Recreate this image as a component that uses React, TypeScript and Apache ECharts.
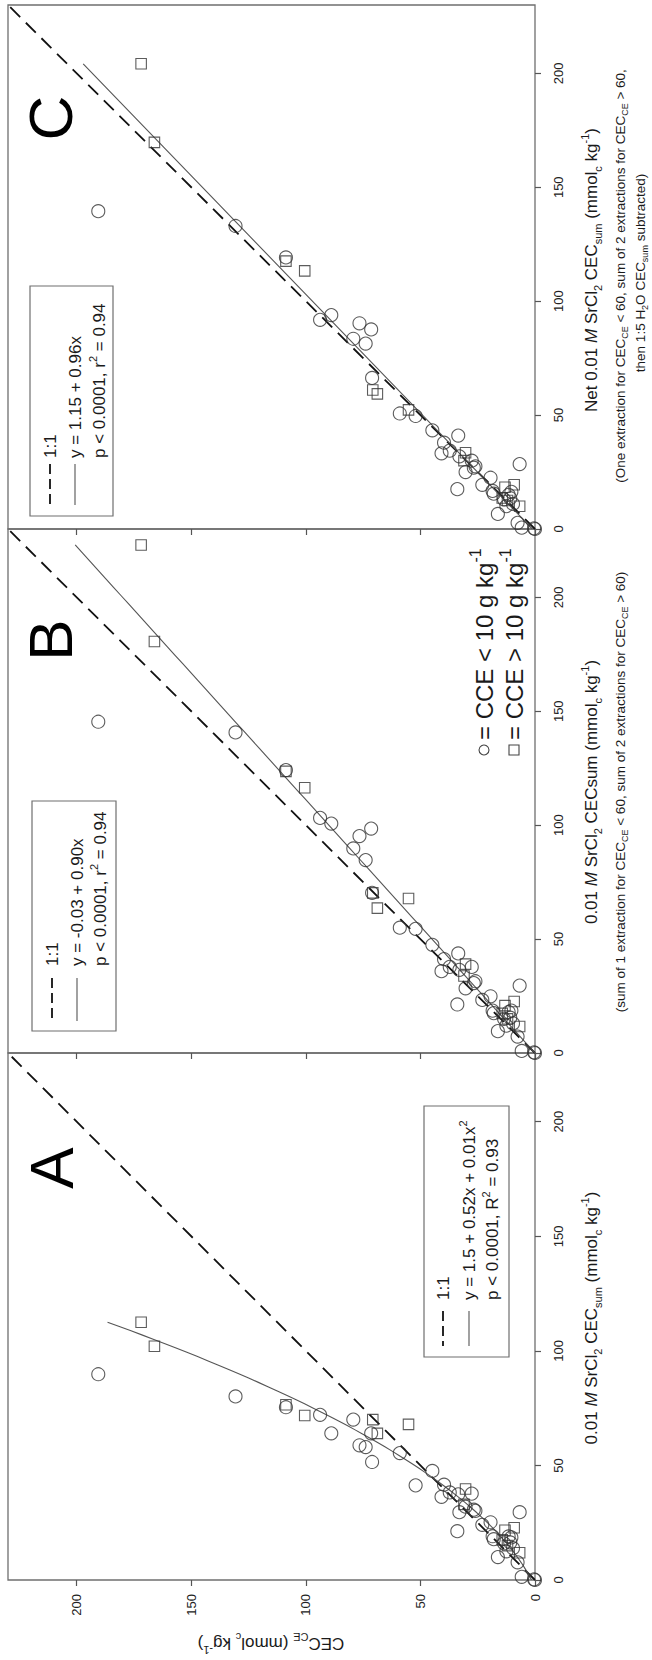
import React, { useEffect, useRef } from "react";
import * as echarts from "echarts";

const FONT = "'Liberation Sans', Arial, Helvetica, sans-serif";
const INK = "#1a1a1a";

// Tick values shared by every axis (mmol_c kg-1)
const TICKS = [0, 50, 100, 150, 200];
const AXIS_MAX = 230;

// CEC_CE of the soils with CCE < 10 g kg-1 (same soils in all three panels)
const circleCE = [190.6, 130.7, 108.7, 93.8, 88.9, 79.3, 76.6, 73.9, 71.5, 71.1, 59.0, 52.1, 44.8, 39.7, 40.8, 37.2, 33.5, 33.0, 33.9, 30.3, 27.6, 26.7, 26.0, 23.0, 19.4, 18.5, 18.0, 16.2, 13.5, 12.5, 11.5, 10.8, 10.3, 9.6, 7.6, 6.7, 5.8, 0.4, 0];
const circleSumA = [89.8, 80.1, 75.4, 72.1, 64.0, 70.0, 58.8, 58.0, 64.0, 51.5, 55.4, 41.3, 47.6, 41.6, 36.3, 38.2, 37.4, 29.6, 21.3, 32.0, 37.7, 30.7, 30.2, 24.1, 25.2, 19.1, 17.8, 10.0, 16.0, 12.5, 19.0, 16.4, 18.6, 13.9, 7.7, 29.6, 1.4, 0.3, 0];
const circleSumB = [145.4, 140.7, 124.2, 103.2, 100.7, 89.8, 95.2, 84.7, 98.5, 70.3, 55.0, 54.5, 47.5, 41.2, 35.9, 37.8, 43.7, 36.5, 21.3, 28.4, 37.8, 30.7, 31.5, 23.3, 24.9, 18.6, 17.5, 9.6, 15.0, 12.0, 18.0, 15.5, 18.6, 13.0, 7.2, 29.6, 0.9, 0.3, 0];
const circleSumC = [139.5, 133.0, 119.2, 91.8, 93.9, 83.5, 90.3, 81.4, 87.6, 66.3, 50.7, 49.6, 43.3, 37.9, 33.2, 34.4, 41.0, 31.9, 17.5, 25.0, 30.0, 26.9, 27.5, 19.4, 22.5, 16.7, 15.5, 6.6, 13.0, 10.0, 15.0, 13.5, 16.3, 11.0, 2.7, 28.5, 0.6, 0.3, 0];

// CEC_CE of the soils with CCE > 10 g kg-1
const squareCE = [171.9, 166.1, 108.7, 100.5, 70.8, 68.8, 55.2, 30.3, 31.0, 13.1, 9.1, 14.3, 12.0, 6.7];
const squareSumA = [112.5, 102.0, 76.5, 71.8, 70.0, 64.0, 67.9, 39.7, 33.0, 21.7, 22.8, 17.5, 15.0, 11.9];
const squareSumB = [223.0, 180.6, 123.6, 116.4, 70.3, 63.6, 67.8, 39.0, 33.8, 20.8, 22.6, 17.4, 15.0, 11.6];
const squareSumC = [204.2, 169.7, 117.6, 113.3, 61.0, 59.3, 52.3, 33.5, 30.0, 18.3, 19.4, 13.6, 12.5, 10.0];

// Regression coefficients printed in each legend: CE = a + b*x + c*x^2
const fitA = { a: 1.5, b: 0.52, c: 0.01 };
const fitB = { a: -0.03, b: 0.9, c: 0 };
const fitC = { a: 1.15, b: 0.96, c: 0 };

const pairs = (ce: number[], sum: number[]) => ce.map((v, i) => [v, sum[i]]);

function fitCurve(f: { a: number; b: number; c: number }, sums: number[]) {
  const maxS = Math.max(...sums);
  const pts: number[][] = [];
  const n = 60;
  for (let k = 0; k <= n; k++) {
    const s = (maxS * k) / n;
    pts.push([f.a + f.b * s + f.c * s * s, s]);
  }
  return pts;
}

function rich(size: number) {
  const sub = Math.round(size * 0.66);
  return {
    n: { fontSize: size, fontFamily: FONT, fill: INK, lineHeight: Math.round(size * 1.4) },
    i: { fontSize: size, fontFamily: FONT, fontStyle: "italic", fill: INK, lineHeight: Math.round(size * 1.4) },
    s: { fontSize: sub, fontFamily: FONT, fill: INK, verticalAlign: "bottom", lineHeight: Math.round(size * 0.85) },
    p: { fontSize: sub, fontFamily: FONT, fill: INK, verticalAlign: "top", lineHeight: Math.round(size * 0.85) },
  };
}

function vtext(x: number, y: number, text: string, size: number, align = "center", rotation = Math.PI / 2) {
  return {
    type: "text",
    x,
    y,
    rotation,
    silent: true,
    z: 10,
    style: {
      text,
      rich: rich(size),
      align,
      verticalAlign: "middle",
      fontSize: size,
      fontFamily: FONT,
      fill: INK,
    },
  };
}

function keyLine(x: number, y1: number, y2: number, dashed: boolean) {
  return {
    type: "line",
    silent: true,
    z: 10,
    shape: { x1: x, y1, x2: x, y2 },
    style: dashed
      ? { stroke: "#111", lineWidth: 1.8, lineDash: [10, 5] }
      : { stroke: "#555", lineWidth: 1.1 },
  };
}

function fitLegend(box: number[], rows: number[], textY: number, keyY: number[], eq: string, stats: string) {
  return [
    {
      type: "rect",
      silent: true,
      z: 9,
      shape: { x: box[0], y: box[1], width: box[2], height: box[3] },
      style: { fill: "#fff", stroke: "#6f6f6f", lineWidth: 1.2 },
    },
    keyLine(rows[0], keyY[0], keyY[1], true),
    keyLine(rows[1], keyY[0], keyY[1], false),
    vtext(rows[0], textY, "{n|1:1}", 17, "left"),
    vtext(rows[1], textY, eq, 17, "left"),
    vtext(rows[2], textY, stats, 17, "left"),
  ];
}

const panels = [
  { top: 1053, height: 527, circles: circleSumA, squares: squareSumA, fit: fitA, labels: true },
  { top: 529, height: 524, circles: circleSumB, squares: squareSumB, fit: fitB, labels: false },
  { top: 5, height: 524, circles: circleSumC, squares: squareSumC, fit: fitC, labels: false },
];

const tickStyle = { show: true, length: 6, lineStyle: { color: "#555", width: 1.2 }, customValues: TICKS };
const labelStyle = { fontSize: 13, color: "#222", fontFamily: FONT, rotate: 90, customValues: TICKS };

export default function App() {
  const ref = useRef<HTMLDivElement>(null);

  useEffect(() => {
    if (!ref.current) return;
    const chart = echarts.init(ref.current, undefined, { renderer: "svg" });

    const grid = panels.map((p) => ({
      left: 8,
      top: p.top,
      width: 527,
      height: p.height,
      show: true,
      borderColor: "#6f6f6f",
      borderWidth: 1.3,
      backgroundColor: "transparent",
      containLabel: false,
      outerBoundsMode: "none",
    }));

    const xAxis = panels.map((p, i) => ({
      gridIndex: i,
      type: "value",
      min: 0,
      max: AXIS_MAX,
      inverse: true,
      position: "bottom",
      axisLine: { show: false, onZero: false },
      splitLine: { show: false },
      axisTick: tickStyle,
      axisLabel: { ...labelStyle, show: p.labels, margin: 14 },
    }));

    const yAxis = panels.map((_p, i) => ({
      gridIndex: i,
      type: "value",
      min: 0,
      max: AXIS_MAX,
      position: "right",
      axisLine: { show: false, onZero: false },
      splitLine: { show: false },
      axisTick: tickStyle,
      axisLabel: { ...labelStyle, show: true, margin: 17 },
    }));

    const series: any[] = [];
    panels.forEach((p, i) => {
      series.push({
        type: "line",
        xAxisIndex: i,
        yAxisIndex: i,
        data: [[0, 0], [AXIS_MAX, AXIS_MAX]],
        symbol: "none",
        silent: true,
        z: 2,
        lineStyle: { color: "#111", width: 1.8, type: [14, 8] },
      });
      series.push({
        type: "line",
        xAxisIndex: i,
        yAxisIndex: i,
        data: fitCurve(p.fit, [...p.circles, ...p.squares]),
        symbol: "none",
        silent: true,
        z: 2,
        lineStyle: { color: "#555", width: 1.1 },
      });
      series.push({
        type: "scatter",
        xAxisIndex: i,
        yAxisIndex: i,
        data: pairs(circleCE, p.circles),
        symbol: "circle",
        symbolSize: 13,
        silent: true,
        z: 3,
        itemStyle: { color: "transparent", borderColor: "#333", borderWidth: 1.1 },
      });
      series.push({
        type: "scatter",
        xAxisIndex: i,
        yAxisIndex: i,
        data: pairs(squareCE, p.squares),
        symbol: "rect",
        symbolSize: 10.5,
        silent: true,
        z: 3,
        itemStyle: { color: "transparent", borderColor: "#333", borderWidth: 1.1 },
      });
    });

    const titleSum = "{n|0.01 }{i|M}{n| SrCl}{s|2}{n| CEC}{s|sum}{n| (mmol}{s|c}{n| kg}{p|-1}{n|)}";

    const graphic: any[] = [
      // panel letters
      vtext(50, 118, "{big|C}", 62),
      vtext(50, 640, "{big|B}", 62),
      vtext(51, 1168, "{big|A}", 62),

      // axis titles, panel C
      vtext(591, 270, "{n|Net 0.01 }{i|M}{n| SrCl}{s|2}{n| CEC}{s|sum}{n| (mmol}{s|c}{n| kg}{p|-1}{n|)}", 17),
      vtext(620, 276, "{n|(One extraction for CEC}{s|CE}{n| < 60, sum of 2 extractions for CEC}{s|CE}{n| > 60,}", 13.5),
      vtext(640, 273, "{n|then 1:5 H}{s|2}{n|O CEC}{s|sum}{n| subtracted)}", 13.5),

      // axis titles, panel B
      vtext(591, 792, "{n|0.01 }{i|M}{n| SrCl}{s|2}{n| CECsum (mmol}{s|c}{n| kg}{p|-1}{n|)}", 17),
      vtext(620, 792, "{n|(sum of 1 extraction for CEC}{s|CE}{n| < 60, sum of 2 extractions for CEC}{s|CE}{n| > 60)}", 13.5),

      // axis title, panel A
      vtext(591, 1318, titleSum, 17),

      // shared CEC_CE axis title
      vtext(271, 1643, "{n|CEC}{s|CE}{n| (mmol}{s|c}{n| kg}{p|-1}{n|)}", 17, "center", Math.PI),

      // regression legends
      ...fitLegend([30, 286, 83, 230], [50, 75, 99], 458, [464, 505],
        "{n|y = 1.15 + 0.96x}", "{n|p < 0.0001, r}{p|2}{n| = 0.94}"),
      ...fitLegend([32, 801, 84, 230], [52, 77, 100], 966, [978, 1021],
        "{n|y = -0.03 + 0.90x}", "{n|p < 0.0001, r}{p|2}{n| = 0.94}"),
      ...fitLegend([424, 1106, 85, 251], [443, 469, 492], 1300, [1311, 1346],
        "{n|y = 1.5 + 0.52x + 0.01x}{p|2}", "{n|p < 0.0001, R}{p|2}{n| = 0.93}"),

      // symbol key
      {
        type: "circle",
        silent: true,
        z: 10,
        shape: { cx: 484, cy: 750, r: 5 },
        style: { fill: "none", stroke: "#444", lineWidth: 1.1 },
      },
      {
        type: "rect",
        silent: true,
        z: 10,
        shape: { x: 509, y: 745, width: 10, height: 10 },
        style: { fill: "none", stroke: "#444", lineWidth: 1.1 },
      },
      vtext(484, 740, "{n|= CCE < 10 g kg}{p|-1}", 24, "left"),
      vtext(514, 740, "{n|= CCE > 10 g kg}{p|-1}", 24, "left"),
    ];

    // big panel letters use their own rich style
    graphic.slice(0, 3).forEach((g) => {
      g.style.rich = { big: { fontSize: 62, fontFamily: FONT, fill: "#000" } };
    });

    chart.setOption({
      animation: false,
      backgroundColor: "#fff",
      grid,
      xAxis,
      yAxis,
      series,
      graphic,
    });

    return () => chart.dispose();
  }, []);

  return (
    <div
      ref={ref}
      style={{ position: "absolute", left: 0, top: 0, width: 652, height: 1660, background: "#fff" }}
    />
  );
}
